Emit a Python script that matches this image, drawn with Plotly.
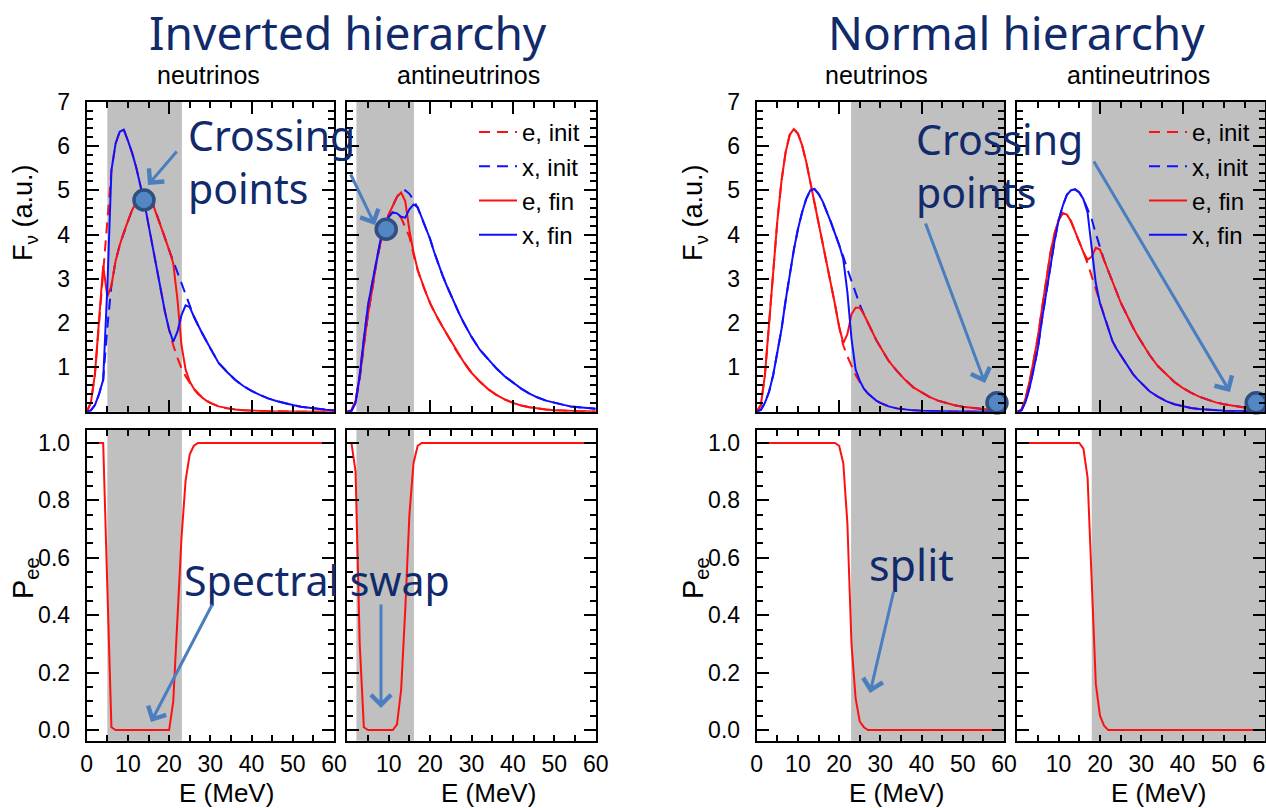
import plotly.graph_objects as go

W, H = 1266, 808

# ---------------------------------------------------------------- data
# energy grid (MeV): 1 MeV steps up to 30, then 2 MeV steps
E_GRID = list(range(0, 31)) + list(range(32, 61, 2))

# Inverted hierarchy, neutrinos
IH_NU_E_INIT = [0, 0.2, 0.85, 2.0, 3.3, 4.4, 5.45, 6.05, 6.32, 6.37, 6.12, 5.85, 5.52, 5.15, 4.72, 4.22,
                3.72, 3.18, 2.7, 2.25, 1.85, 1.5, 1.22, 0.98, 0.8, 0.64, 0.51, 0.4, 0.32, 0.25, 0.2,
                0.12, 0.075, 0.047, 0.03, 0.02, 0.013, 0.008, 0.005, 0.003, 0.002, 0.001, 0.001, 0, 0, 0]
IH_NU_X_INIT = [0, 0.03, 0.15, 0.4, 0.72, 1.9, 2.85, 3.4, 3.76, 4.05, 4.3, 4.55, 4.72, 4.82, 4.85, 4.82,
                4.7, 4.45, 4.2, 3.92, 3.65, 3.4, 3.15, 2.9, 2.62, 2.36, 2.15, 1.95, 1.77, 1.6, 1.43,
                1.1, 0.9, 0.72, 0.58, 0.47, 0.38, 0.3, 0.24, 0.19, 0.15, 0.11, 0.085, 0.06, 0.045, 0.03]
IH_NU_E_FIN = [0, 0.2, 0.85, 2.0, 3.3, 2.6, 2.85, 3.4, 3.76, 4.05, 4.3, 4.55, 4.72, 4.82, 4.85, 4.82,
               4.7, 4.45, 4.2, 3.92, 3.65, 3.35, 2.55, 1.5, 0.95, 0.68, 0.52, 0.41, 0.32, 0.25, 0.2,
               0.12, 0.075, 0.047, 0.03, 0.02, 0.013, 0.008, 0.005, 0.003, 0.002, 0.001, 0.001, 0, 0, 0]
IH_NU_X_FIN = [0, 0.03, 0.15, 0.4, 0.72, 2.8, 5.45, 6.05, 6.32, 6.37, 6.12, 5.85, 5.52, 5.15, 4.72, 4.22,
               3.72, 3.18, 2.7, 2.25, 1.85, 1.58, 1.8, 2.18, 2.4, 2.36, 2.15, 1.95, 1.77, 1.6, 1.43,
               1.1, 0.9, 0.72, 0.58, 0.47, 0.38, 0.3, 0.24, 0.19, 0.15, 0.11, 0.085, 0.06, 0.045, 0.03]
IH_NU_PEE = [1, 1, 1, 1, 1, 0.5, 0.01, 0, 0, 0, 0, 0, 0, 0, 0, 0,
             0, 0, 0, 0, 0, 0.1, 0.37, 0.67, 0.87, 0.96, 0.99, 1, 1, 1, 1,
             1, 1, 1, 1, 1, 1, 1, 1, 1, 1, 1, 1, 1, 1, 1]

# Inverted hierarchy, antineutrinos
IH_ANU_E_INIT = [0, 0.03, 0.25, 0.85, 1.65, 2.4, 2.9, 3.4, 3.87, 4.18, 4.4, 4.5, 4.48, 4.38, 4.18, 3.95,
                 3.55, 3.2, 2.92, 2.68, 2.45, 2.25, 2.08, 1.92, 1.76, 1.6, 1.43, 1.28, 1.14, 1.0, 0.88,
                 0.68, 0.51, 0.38, 0.28, 0.2, 0.14, 0.1, 0.07, 0.05, 0.035, 0.024, 0.016, 0.011, 0.008, 0.005]
IH_ANU_X_INIT = [0, 0.02, 0.2, 0.75, 1.5, 2.2, 2.75, 3.35, 3.8, 4.15, 4.45, 4.65, 4.85, 4.97, 5.0, 4.92,
                 4.78, 4.6, 4.38, 4.16, 3.9, 3.6, 3.33, 3.08, 2.85, 2.63, 2.42, 2.22, 2.03, 1.85, 1.69,
                 1.4, 1.18, 0.98, 0.8, 0.65, 0.52, 0.41, 0.32, 0.25, 0.2, 0.16, 0.12, 0.1, 0.08, 0.065]
IH_ANU_E_FIN = [0, 0.03, 0.25, 0.78, 1.5, 2.2, 2.75, 3.35, 3.8, 4.15, 4.45, 4.65, 4.85, 4.95, 4.75, 4.1,
                3.6, 3.2, 2.92, 2.68, 2.45, 2.25, 2.08, 1.92, 1.76, 1.6, 1.43, 1.28, 1.14, 1.0, 0.88,
                0.68, 0.51, 0.38, 0.28, 0.2, 0.14, 0.1, 0.07, 0.05, 0.035, 0.024, 0.016, 0.011, 0.008, 0.005]
IH_ANU_X_FIN = [0, 0.02, 0.2, 0.82, 1.65, 2.4, 2.9, 3.4, 3.87, 4.18, 4.4, 4.5, 4.48, 4.4, 4.38, 4.57,
                4.68, 4.62, 4.38, 4.16, 3.9, 3.6, 3.33, 3.08, 2.85, 2.63, 2.42, 2.22, 2.03, 1.85, 1.69,
                1.4, 1.18, 0.98, 0.8, 0.65, 0.52, 0.41, 0.32, 0.25, 0.2, 0.16, 0.12, 0.1, 0.08, 0.065]
IH_ANU_PEE = [1, 1, 0.9, 0.3, 0.01, 0, 0, 0, 0, 0, 0, 0, 0.02, 0.14, 0.42, 0.75,
              0.93, 0.99, 1, 1, 1, 1, 1, 1, 1, 1, 1, 1, 1, 1, 1,
              1, 1, 1, 1, 1, 1, 1, 1, 1, 1, 1, 1, 1, 1, 1]

# Normal hierarchy, neutrinos
NH_NU_E_INIT = [0, 0.15, 0.83, 1.95, 3.15, 4.3, 5.2, 5.85, 6.25, 6.38, 6.28, 6.02, 5.65, 5.2, 4.75, 4.28,
                3.8, 3.33, 2.88, 2.42, 1.92, 1.5, 1.25, 1.02, 0.83, 0.67, 0.52, 0.41, 0.32, 0.25, 0.2,
                0.12, 0.075, 0.047, 0.03, 0.02, 0.012, 0.008, 0.005, 0.003, 0.002, 0.001, 0.001, 0, 0, 0]
NH_NU_X_INIT = [0, 0.04, 0.2, 0.45, 0.83, 1.3, 1.85, 2.5, 3.12, 3.65, 4.12, 4.5, 4.8, 5.0, 5.03, 4.92,
                4.75, 4.53, 4.28, 4.02, 3.77, 3.5, 3.22, 2.95, 2.68, 2.42, 2.2, 2.0, 1.8, 1.62, 1.46,
                1.15, 0.92, 0.72, 0.55, 0.43, 0.33, 0.25, 0.19, 0.145, 0.11, 0.085, 0.065, 0.05, 0.038, 0.028]
NH_NU_E_FIN = [0, 0.15, 0.83, 1.95, 3.15, 4.3, 5.2, 5.85, 6.25, 6.38, 6.28, 6.02, 5.65, 5.2, 4.75, 4.28,
               3.8, 3.33, 2.88, 2.42, 1.92, 1.55, 1.75, 2.2, 2.35, 2.35, 2.2, 2.0, 1.8, 1.62, 1.46,
               1.15, 0.92, 0.72, 0.55, 0.43, 0.33, 0.25, 0.19, 0.145, 0.11, 0.085, 0.065, 0.05, 0.038, 0.028]
NH_NU_X_FIN = [0, 0.04, 0.2, 0.45, 0.83, 1.3, 1.85, 2.5, 3.12, 3.65, 4.12, 4.5, 4.8, 5.0, 5.03, 4.92,
               4.75, 4.53, 4.28, 4.02, 3.77, 3.45, 2.7, 1.65, 0.95, 0.7, 0.52, 0.41, 0.32, 0.25, 0.2,
               0.12, 0.075, 0.047, 0.03, 0.02, 0.012, 0.008, 0.005, 0.003, 0.002, 0.001, 0.001, 0, 0, 0]
NH_NU_PEE = [1, 1, 1, 1, 1, 1, 1, 1, 1, 1, 1, 1, 1, 1, 1, 1,
             1, 1, 1, 1, 0.99, 0.93, 0.72, 0.3, 0.11, 0.03, 0.01, 0, 0, 0, 0,
             0, 0, 0, 0, 0, 0, 0, 0, 0, 0, 0, 0, 0, 0, 0]

# Normal hierarchy, antineutrinos
NH_ANU_E_INIT = [0, 0.04, 0.3, 0.7, 1.18, 1.7, 2.35, 3.0, 3.58, 4.02, 4.33, 4.48, 4.45, 4.3, 4.08, 3.85,
                 3.6, 3.35, 3.05, 2.75, 2.45, 2.15, 1.85, 1.6, 1.42, 1.27, 1.13, 0.98, 0.85, 0.74, 0.64,
                 0.46, 0.34, 0.24, 0.17, 0.12, 0.085, 0.06, 0.042, 0.03, 0.021, 0.015, 0.01, 0.007, 0.005, 0.003]
NH_ANU_X_INIT = [0, 0.03, 0.22, 0.55, 0.98, 1.45, 2.1, 2.72, 3.3, 3.85, 4.32, 4.65, 4.9, 5.0, 5.02, 4.95,
                 4.8, 4.58, 4.35, 4.02, 3.7, 3.42, 3.18, 2.93, 2.7, 2.47, 2.28, 2.08, 1.9, 1.73, 1.57,
                 1.28, 1.03, 0.85, 0.67, 0.54, 0.43, 0.34, 0.27, 0.21, 0.17, 0.135, 0.105, 0.08, 0.06, 0.045]
NH_ANU_E_FIN = [0, 0.04, 0.3, 0.7, 1.18, 1.7, 2.35, 3.0, 3.58, 4.02, 4.33, 4.48, 4.45, 4.3, 4.08, 3.85,
                3.6, 3.43, 3.5, 3.7, 3.66, 3.42, 3.18, 2.93, 2.7, 2.47, 2.28, 2.08, 1.9, 1.73, 1.57,
                1.28, 1.03, 0.85, 0.67, 0.54, 0.43, 0.34, 0.27, 0.21, 0.17, 0.135, 0.105, 0.08, 0.06, 0.045]
NH_ANU_X_FIN = [0, 0.03, 0.22, 0.55, 0.98, 1.45, 2.1, 2.72, 3.3, 3.85, 4.32, 4.65, 4.9, 5.0, 5.02, 4.95,
                4.8, 4.5, 3.7, 2.9, 2.45, 2.15, 1.85, 1.6, 1.42, 1.27, 1.13, 0.98, 0.85, 0.74, 0.64,
                0.46, 0.34, 0.24, 0.17, 0.12, 0.085, 0.06, 0.042, 0.03, 0.021, 0.015, 0.01, 0.007, 0.005, 0.003]
NH_ANU_PEE = [1, 1, 1, 1, 1, 1, 1, 1, 1, 1, 1, 1, 1, 1, 1, 1,
              0.98, 0.88, 0.52, 0.16, 0.05, 0.015, 0, 0, 0, 0, 0, 0, 0, 0, 0,
              0, 0, 0, 0, 0, 0, 0, 0, 0, 0, 0, 0, 0, 0, 0]

# energy ranges (MeV) where the spectra are swapped, one per column
SWAP_LO = [5.0, 2.2, 22.9, 18.0]
SWAP_HI = [23.1, 16.1, 60.0, 60.0]

# spectral crossing points (E, F) marked in each column
CROSS_E = [13.9, 9.4, 58.3, 57.8]
CROSS_F = [4.78, 4.12, 0.2, 0.2]

COLUMN_LABELS = ["neutrinos", "antineutrinos", "neutrinos", "antineutrinos"]
GROUP_TITLES = ["Inverted hierarchy", "Normal hierarchy"]
LEGEND_NAMES = ["e, init", "x, init", "e, fin", "x, fin"]

X_TICKS_FULL = [0, 10, 20, 30, 40, 50, 60]
X_TICKS_NO_ZERO = [10, 20, 30, 40, 50, 60]
X_LONG_TICKS = [0, 20, 40, 60]
F_TICKS = [1, 2, 3, 4, 5, 6, 7]
P_TICKS = [0.0, 0.2, 0.4, 0.6, 0.8, 1.0]

SPECTRA = [
    (IH_NU_E_INIT, IH_NU_X_INIT, IH_NU_E_FIN, IH_NU_X_FIN),
    (IH_ANU_E_INIT, IH_ANU_X_INIT, IH_ANU_E_FIN, IH_ANU_X_FIN),
    (NH_NU_E_INIT, NH_NU_X_INIT, NH_NU_E_FIN, NH_NU_X_FIN),
    (NH_ANU_E_INIT, NH_ANU_X_INIT, NH_ANU_E_FIN, NH_ANU_X_FIN),
]
SURVIVAL = [IH_NU_PEE, IH_ANU_PEE, NH_NU_PEE, NH_ANU_PEE]

# ---------------------------------------------------------------- styling
RED = "#ff1010"
BLUE = "#1010ff"
BAND = "#c0c0c0"
NAVY = "#102a6b"
ARROW = "#4a7ebf"
TEXT_FONT = "Liberation Sans, Arial, sans-serif"
HAND_FONT = "Comic Sans MS, Noto Sans, DejaVu Sans, sans-serif"
DASH = "11px,7px"

# panel boxes in pixels
COL_PX = [(86.7, 334.0), (347.3, 595.7), (756.7, 1004.0), (1017.3, 1265.3)]
ROW_PX = [(101.7, 411.7), (430.0, 740.7)]


def px(x):
    return x / W


def py(y):
    return 1 - y / H


def xdom(c):
    a, b = COL_PX[c]
    return [px(a), px(b)]


def ydom(r):
    top, bottom = ROW_PX[r]
    return [py(bottom), py(top)]


def sfx(n):
    return "" if n == 1 else str(n)


def label(x, y, text, font, xanchor="center", yanchor="middle", **kw):
    return dict(x=px(x), y=py(y), xref="paper", yref="paper", text=text, showarrow=False,
                xanchor=xanchor, yanchor=yanchor, font=font, **kw)


fig = go.Figure()

# ---------------------------------------------------------------- axes
frame = dict(showline=True, linecolor="black", linewidth=2, mirror="ticks", ticks="inside",
             tickcolor="black", tickwidth=1.5, showgrid=False, zeroline=False, automargin=False,
             tickfont=dict(family=TEXT_FONT, size=23, color="black"))
layout_axes = {}

for r in range(2):
    for c in range(4):
        n = r * 4 + c + 1
        xa = dict(frame, domain=xdom(c), anchor=f"y{sfx(n)}", range=[0, 60])
        ya = dict(frame, domain=ydom(r), anchor=f"x{sfx(n)}")
        if r == 0:
            xa.update(tickmode="array", tickvals=X_LONG_TICKS, ticklen=12, showticklabels=False,
                      minor=dict(tickmode="linear", tick0=0, dtick=5, ticklen=6, ticks="inside",
                                 tickcolor="black", tickwidth=1.5, showgrid=False))
            ya.update(range=[0, 7], tickmode="array", tickvals=F_TICKS, ticklen=12,
                      showticklabels=(c % 2 == 0), ticklabelstandoff=10,
                      minor=dict(tickmode="linear", tick0=0, dtick=0.2, ticklen=6, ticks="inside",
                                 tickcolor="black", tickwidth=1.5, showgrid=False))
        else:
            xa.update(tickmode="array", tickvals=X_TICKS_FULL if c % 2 == 0 else X_TICKS_NO_ZERO,
                      ticklen=6, showticklabels=True, ticklabelstandoff=2, ticklabeloverflow="allow",
                      minor=dict(tickmode="linear", tick0=0, dtick=5, ticklen=6, ticks="inside",
                                 tickcolor="black", tickwidth=1.5, showgrid=False))
            ya.update(range=[-0.037, 1.045], tickmode="array", tickvals=P_TICKS,
                      ticktext=[f"{v:.1f}" for v in P_TICKS], ticklen=12,
                      showticklabels=(c % 2 == 0), ticklabelstandoff=10,
                      minor=dict(tickmode="linear", tick0=0, dtick=0.05, ticklen=6, ticks="inside",
                                 tickcolor="black", tickwidth=1.5, showgrid=False))
            # long ticks every 20 MeV on an overlaid axis
            m = 8 + c + 1
            layout_axes[f"xaxis{m}"] = dict(overlaying=f"x{sfx(n)}", anchor=f"y{sfx(n)}", range=[0, 60],
                                            tickmode="array", tickvals=X_LONG_TICKS, ticks="inside",
                                            ticklen=12, tickwidth=1.5, tickcolor="black",
                                            mirror="ticks", showline=False, showgrid=False,
                                            zeroline=False, showticklabels=False, automargin=False)
        layout_axes[f"xaxis{sfx(n)}"] = xa
        layout_axes[f"yaxis{sfx(n)}"] = ya

# ---------------------------------------------------------------- traces
styles = [(RED, DASH), (BLUE, DASH), (RED, "solid"), (BLUE, "solid")]
for c in range(4):
    n = c + 1
    legend_ref = {1: "legend", 3: "legend2"}.get(c)
    for series, name, (color, dash) in zip(SPECTRA[c], LEGEND_NAMES, styles):
        fig.add_trace(go.Scatter(
            x=E_GRID, y=series, mode="lines", name=name,
            line=dict(color=color, width=2, dash=dash),
            xaxis=f"x{sfx(n)}", yaxis=f"y{sfx(n)}",
            showlegend=legend_ref is not None, legend=legend_ref or "legend",
            hoverinfo="skip"))
    fig.add_trace(go.Scatter(
        x=[CROSS_E[c]], y=[CROSS_F[c]], mode="markers", showlegend=False, cliponaxis=False,
        marker=dict(size=20, color="#5286c4", line=dict(color="#2e4f80", width=3.5)),
        xaxis=f"x{sfx(n)}", yaxis=f"y{sfx(n)}", hoverinfo="skip"))
    fig.add_trace(go.Scatter(
        x=E_GRID, y=SURVIVAL[c], mode="lines", showlegend=False,
        line=dict(color=RED, width=2), xaxis=f"x{n + 4}", yaxis=f"y{n + 4}", hoverinfo="skip"))

# swap bands
shapes = []
for c in range(4):
    for r in range(2):
        n = r * 4 + c + 1
        shapes.append(dict(type="rect", xref=f"x{sfx(n)}", yref=f"y{sfx(n)} domain", x0=SWAP_LO[c],
                           x1=SWAP_HI[c], y0=0, y1=1, fillcolor=BAND, line=dict(width=0),
                           layer="below"))

# ---------------------------------------------------------------- text
axis_font = dict(family=TEXT_FONT, size=26, color="black")
ann = []
for i, t in enumerate(GROUP_TITLES):
    ann.append(label([347.5, 1016][i], 32, t, dict(family=HAND_FONT, size=46, color=NAVY)))
for c, t in enumerate(COLUMN_LABELS):
    ann.append(label([208, 468, 876, 1138][c], 75, t, dict(family=TEXT_FONT, size=25, color="black")))
    ann.append(label([226, 488, 896, 1158][c], 793, "E (MeV)", axis_font))
for g in range(2):
    off = [0, 670][g]
    ann.append(label(25 + off, 213, "F<sub>ν</sub> (a.u.)", dict(family=TEXT_FONT, size=27, color="black"),
                     textangle=-90))
    ann.append(label(25 + off, 578, "P<sub>ee</sub>", dict(family=TEXT_FONT, size=29, color="black"),
                     textangle=-90))

hand = dict(family=HAND_FONT, size=41, color=NAVY)
ann.append(label(186, 162, "Crossing<br>points", hand, xanchor="left", align="left"))
ann.append(label(914, 166, "Crossing<br>points", hand, xanchor="left", align="left"))
ann.append(label(182, 580, "Spectral swap", hand, xanchor="left"))
ann.append(label(867, 564, "split", dict(hand, size=43), xanchor="left"))

# arrows: (tail_x, tail_y, tip_x, tip_y) in pixels
for tx, ty, hx, hy in [(178, 150, 148, 185), (350, 173, 375, 225),
                       (925, 222, 985, 383), (1093, 160, 1230, 392),
                       (213, 603, 151, 722), (381, 603, 381, 708),
                       (894, 590, 870, 693)]:
    ann.append(dict(x=px(hx), y=py(hy), xref="paper", yref="paper", ax=tx - hx, ay=ty - hy,
                    text="", showarrow=True, arrowhead=4, arrowsize=1.3, arrowwidth=3,
                    arrowcolor=ARROW, standoff=0))

legend_common = dict(xanchor="left", yanchor="top", bgcolor="rgba(0,0,0,0)", borderwidth=0,
                     font=dict(family=TEXT_FONT, size=24, color="black"), tracegroupgap=0,
                     itemwidth=38)

fig.update_layout(
    width=W, height=H, margin=dict(l=0, r=0, t=0, b=0, pad=0, autoexpand=False),
    paper_bgcolor="white", plot_bgcolor="white",
    font=dict(family=TEXT_FONT, size=22, color="black"),
    showlegend=True,
    legend=dict(legend_common, x=px(474), y=py(110)),
    legend2=dict(legend_common, x=px(1144), y=py(110)),
    shapes=shapes, annotations=ann,
    **layout_axes,
)

# keep the page flush with the window edges
fig.write_html("out.html",
               post_script="document.body.style.margin='0';document.body.style.padding='0';"
                           "document.body.style.overflow='hidden';")
